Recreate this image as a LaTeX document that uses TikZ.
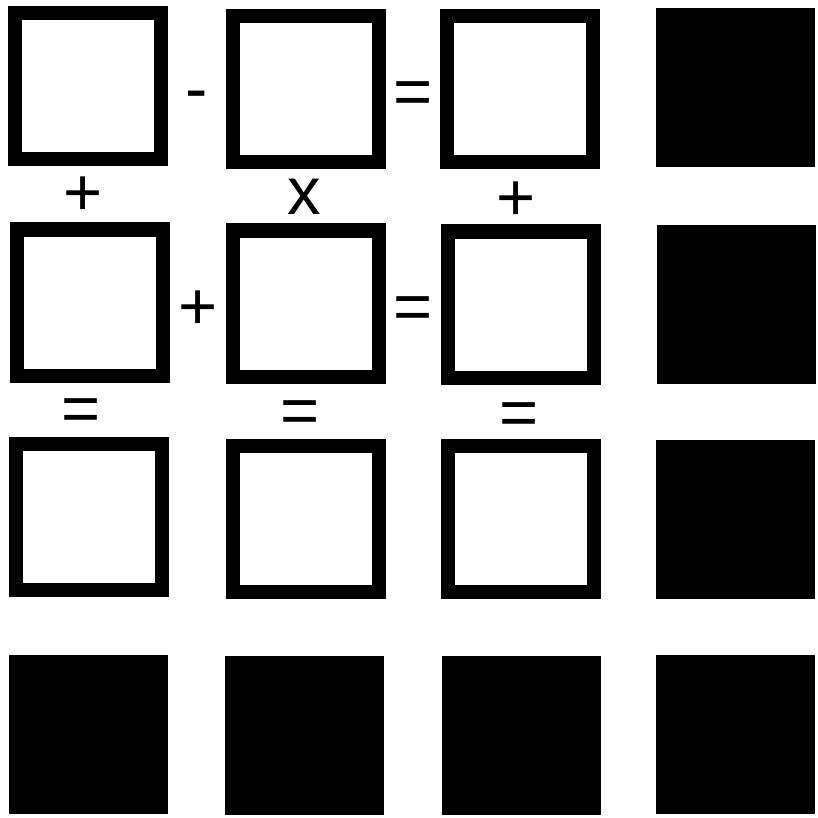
\documentclass[tikz,border=0pt]{standalone}
\usepackage{fontspec}
\setmainfont{Liberation Sans}

\begin{document}
\begin{tikzpicture}[x=1pt, y=-1pt,
    openbox/.style={draw=black, fill=white, line width=14pt, minimum size=146pt, inner sep=0pt},
    fullbox/.style={fill=black, minimum size=159pt, inner sep=0pt},
    op/.style={anchor=base, inner sep=0pt, font=\fontsize{67}{70}\selectfont}]

\useasboundingbox (0,0) rectangle (817,818);

% Boxes
\node[openbox] (b11) at (88,86.5) {};
\node[openbox] (b12) at (305.5,89.5) {};
\node[openbox] (b13) at (519.5,89.5) {};
\node[fullbox] (b14) at (735.5,87.5) {};

\node[openbox] (b21) at (90,302.5) {};
\node[openbox] (b22) at (305.5,303.5) {};
\node[openbox] (b23) at (521,304.5) {};
\node[fullbox] (b24) at (736,304.5) {};

\node[openbox] (b31) at (88.5,517) {};
\node[openbox] (b32) at (305.5,518.5) {};
\node[openbox] (b33) at (521,519) {};
\node[fullbox] (b34) at (735.5,519) {};

\node[fullbox] (b41) at (88,734) {};
\node[fullbox] (b42) at (304.5,735.5) {};
\node[fullbox] (b43) at (521,735.5) {};
\node[fullbox] (b44) at (735.5,734) {};

% Operators
\node[op] (m1) at (196.5,111.5) {-};
\node[op] (e1) at (413,115) {=};
\node[op] (p1) at (83.5,215) {+};
\node[op] (t1) at (304,214.5) {x};
\node[op] (p2) at (516,220.5) {+};
\node[op] (p3) at (198,329.5) {+};
\node[op] (e2) at (413,329.5) {=};
\node[op] (e3) at (81.5,431.5) {=};
\node[op] (e4) at (300.5,433.5) {=};
\node[op] (e5) at (519.5,435) {=};

\end{tikzpicture}
\end{document}
